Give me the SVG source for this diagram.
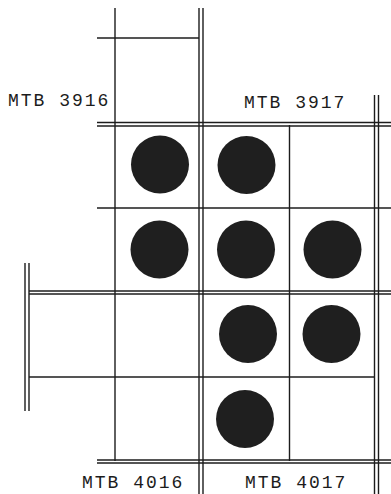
<svg xmlns="http://www.w3.org/2000/svg" width="391" height="494" viewBox="0 0 391 494">
<style>
.ln{stroke:#1c1c1c;stroke-width:1.4;fill:none}
.dot{fill:#1f1f1f}
.lbl{font-family:"Liberation Mono","Courier New",monospace;font-size:18px;letter-spacing:2px;fill:#1c1c1c}
</style>
<rect width="391" height="494" fill="#ffffff"/>
<g id="connectors">
<line class="ln" x1="115" y1="8" x2="115" y2="461"/>
<line class="ln" x1="97" y1="38" x2="199" y2="38"/>
<line class="ln" x1="199" y1="8" x2="199" y2="494"/>
<line class="ln" x1="203" y1="8" x2="203" y2="494"/>
<line class="ln" x1="374.5" y1="95" x2="374.5" y2="494"/>
<line class="ln" x1="378.5" y1="95" x2="378.5" y2="494"/>
<line class="ln" x1="25" y1="263" x2="25" y2="411"/>
<line class="ln" x1="29" y1="263" x2="29" y2="411"/>
<line class="ln" x1="289.5" y1="125" x2="289.5" y2="461"/>
<line class="ln" x1="97" y1="122.5" x2="391" y2="122.5"/>
<line class="ln" x1="97" y1="126" x2="391" y2="126"/>
<line class="ln" x1="97" y1="208" x2="391" y2="208"/>
<line class="ln" x1="29" y1="291" x2="391" y2="291"/>
<line class="ln" x1="29" y1="294" x2="391" y2="294"/>
<line class="ln" x1="29" y1="377" x2="375" y2="377"/>
<line class="ln" x1="97" y1="460" x2="391" y2="460"/>
<line class="ln" x1="97" y1="463" x2="391" y2="463"/>
</g>
<g id="dots">
<circle class="dot" cx="160" cy="164.5" r="29"/>
<circle class="dot" cx="246.5" cy="165" r="29"/>
<circle class="dot" cx="159.5" cy="249.5" r="29"/>
<circle class="dot" cx="246" cy="249.5" r="29"/>
<circle class="dot" cx="332.5" cy="249.5" r="29"/>
<circle class="dot" cx="248" cy="334" r="29"/>
<circle class="dot" cx="331.5" cy="334" r="29"/>
<circle class="dot" cx="245" cy="419" r="29"/>
</g>
<g id="labels">
<text class="lbl" x="8" y="106">MTB 3916</text>
<text class="lbl" x="244" y="108">MTB 3917</text>
<text class="lbl" x="82" y="487.5">MTB 4016</text>
<text class="lbl" x="245" y="487.5">MTB 4017</text>
</g>
</svg>
